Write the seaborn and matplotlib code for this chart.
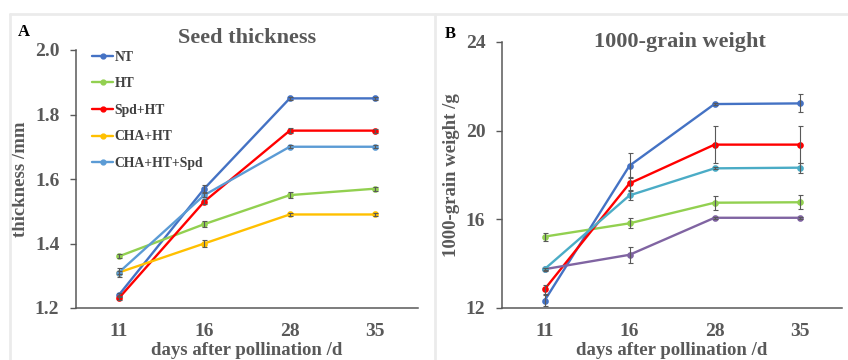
import pandas as pd
import seaborn as sns
import matplotlib.pyplot as plt
from matplotlib.lines import Line2D

days = ['11', '16', '28', '35']
groups = ['NT', 'HT', 'Spd+HT', 'CHA+HT', 'CHA+HT+Spd']

# panel A - seed thickness (mm)
thick_nt = [1.24, 1.57, 1.85, 1.85]
thick_ht = [1.36, 1.46, 1.55, 1.57]
thick_spd = [1.23, 1.53, 1.75, 1.75]
thick_cha = [1.31, 1.40, 1.49, 1.49]
thick_cha_spd = [1.31, 1.55, 1.70, 1.70]
thick_err_nt = [0.006, 0.010, 0.005, 0.005]
thick_err_ht = [0.006, 0.010, 0.010, 0.006]
thick_err_spd = [0.006, 0.008, 0.008, 0.006]
thick_err_cha = [0.004, 0.012, 0.006, 0.004]
thick_err_cha_spd = [0.015, 0.006, 0.004, 0.004]

# panel B - 1000-grain weight (g)
tgw_nt = [12.33, 18.42, 21.2, 21.23]
tgw_ht = [15.22, 15.82, 16.75, 16.77]
tgw_spd = [12.84, 17.62, 19.37, 19.37]
tgw_cha = [13.75, 14.40, 16.07, 16.07]
tgw_cha_spd = [13.75, 17.08, 18.30, 18.33]
tgw_err_nt = [0.25, 0.57, 0.05, 0.41]
tgw_err_ht = [0.18, 0.22, 0.32, 0.32]
tgw_err_spd = [0.20, 0.30, 0.82, 0.82]
tgw_err_cha = [0.05, 0.35, 0.05, 0.05]
tgw_err_cha_spd = [0.06, 0.22, 0.05, 0.22]

colors_a = ['#4472C4', '#92D050', '#FF0000', '#FFC000', '#5B9BD5']
colors_b = ['#4472C4', '#92D050', '#FF0000', '#8064A2', '#4BACC6']


def long_df(series):
    rows = []
    for g, vals in zip(groups, series):
        for d, v in zip(days, vals):
            rows.append({'day': d, 'value': v, 'group': g})
    return pd.DataFrame(rows)


sns.set_style('white')
plt.rcParams['font.family'] = ['Liberation Serif', 'DejaVu Serif']
plt.rcParams['font.weight'] = 'bold'
gray = '#595959'

fig = plt.figure(figsize=(8.48, 3.6), dpi=100)
axA = fig.add_axes([76/848, 52/360, 342/848, 258/360])
axB = fig.add_axes([502/848, 52/360, 340/848, 266/360])

panels = [
    (axA, [thick_nt, thick_ht, thick_spd, thick_cha, thick_cha_spd],
     [thick_err_nt, thick_err_ht, thick_err_spd, thick_err_cha, thick_err_cha_spd],
     colors_a, 'Seed thickness', 'thickness /mm', (1.2, 2.0), [1.2, 1.4, 1.6, 1.8, 2.0], '{:.1f}'),
    (axB, [tgw_nt, tgw_ht, tgw_spd, tgw_cha, tgw_cha_spd],
     [tgw_err_nt, tgw_err_ht, tgw_err_spd, tgw_err_cha, tgw_err_cha_spd],
     colors_b, '1000-grain weight', '1000-grain weight /g', (12, 24), [12, 16, 20, 24], '{:.0f}'),
]

for ax, series, errs, cols, title, ylab, ylim, yt, fmt in panels:
    df = long_df(series)
    sns.pointplot(data=df, x='day', y='value', hue='group', order=days,
                  hue_order=groups, palette=cols, errorbar=None,
                  markers='o', markersize=3.5, linewidth=1.7, ax=ax)
    for vals, e in zip(series, errs):
        ax.errorbar(range(4), vals, yerr=e, fmt='none', ecolor=gray,
                    elinewidth=0.8, capsize=1.8, capthick=0.8, zorder=5)
    ax.set_xlim(-0.5, 3.5)
    ax.set_ylim(*ylim)
    ax.set_yticks(yt)
    ax.set_yticklabels([fmt.format(v) for v in yt])
    ax.tick_params(axis='y', left=True, length=4, width=1, color=gray,
                   labelsize=14, labelcolor=gray, pad=8)
    ax.tick_params(axis='x', bottom=False, labelsize=14, labelcolor=gray, pad=7)
    for s in ['top', 'right']:
        ax.spines[s].set_visible(False)
    for s in ['left', 'bottom']:
        ax.spines[s].set_color(gray)
        ax.spines[s].set_linewidth(1.1)
    ax.set_xlabel('days after pollination /d', fontsize=13.5, color=gray,
                  fontweight='bold', labelpad=2)
    ax.set_ylabel(ylab, fontsize=13.5, color=gray, fontweight='bold', labelpad=4)
    ax.get_legend().remove()

fig.text(247/848, 1 - 38/360, 'Seed thickness', fontsize=16, color=gray,
         fontweight='bold', ha='center', va='center')
fig.text(680/848, 1 - 42/360, '1000-grain weight', fontsize=16, color=gray,
         fontweight='bold', ha='center', va='center')

handles = [Line2D([0], [0], color=c, lw=1.7, marker='o', markersize=3.5)
           for c in colors_a]
axA.legend(handles, groups, loc='upper left', bbox_to_anchor=(0.01, 1.045),
           frameon=False, fontsize=9.8, labelspacing=1.0, handlelength=1.6,
           handletextpad=0.1, labelcolor='#404040')

fig.text(18/848, 1 - 36/360, 'A', fontsize=12, fontweight='bold', color='black')
fig.text(445/848, 1 - 38/360, 'B', fontsize=12, fontweight='bold', color='black')

# light frame of the original figure
fig.add_artist(Line2D([10/848, 1], [1 - 14/360, 1 - 14/360], color='#ebebeb', lw=2))
fig.add_artist(Line2D([10/848, 10/848], [0, 1 - 14/360], color='#ebebeb', lw=2))
fig.add_artist(Line2D([435/848, 435/848], [0, 1 - 14/360], color='#ebebeb', lw=2))

fig.savefig('out.png', dpi=100)
